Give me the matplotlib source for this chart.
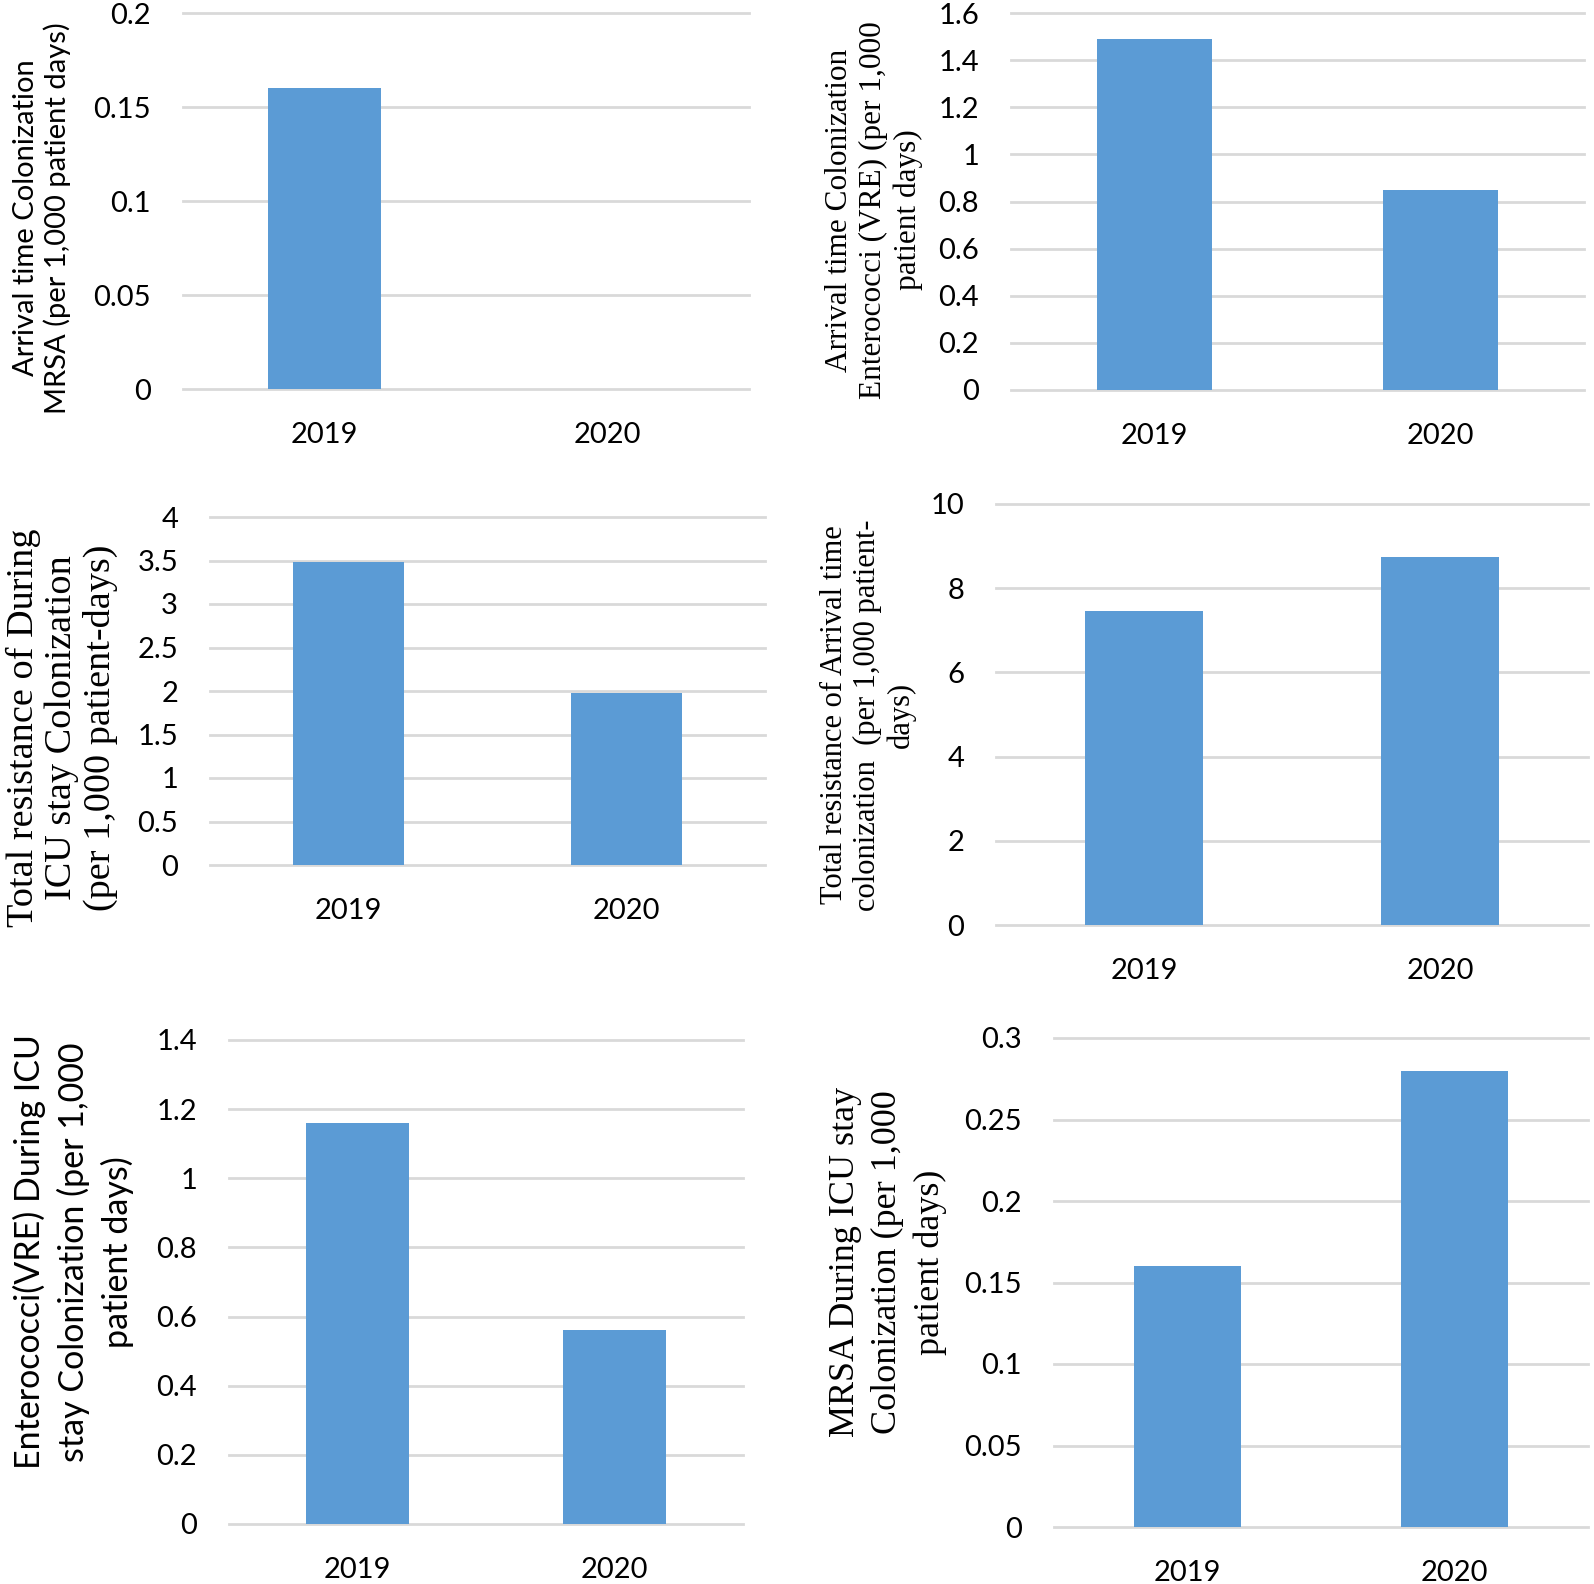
import matplotlib
matplotlib.use("Agg")
import matplotlib.pyplot as plt

# ---------------- data ----------------
years = ["2019", "2020"]

mrsa_arrival = [0.16, 0.0]
vre_arrival = [1.49, 0.85]
total_during = [3.48, 1.98]
total_arrival = [7.45, 8.75]
vre_during = [1.16, 0.56]
mrsa_during = [0.16, 0.28]

ticks_mrsa_arrival = [0, 0.05, 0.1, 0.15, 0.2]
ticks_vre_arrival = [0, 0.2, 0.4, 0.6, 0.8, 1, 1.2, 1.4, 1.6]
ticks_total_during = [0, 0.5, 1, 1.5, 2, 2.5, 3, 3.5, 4]
ticks_total_arrival = [0, 2, 4, 6, 8, 10]
ticks_vre_during = [0, 0.2, 0.4, 0.6, 0.8, 1, 1.2, 1.4]
ticks_mrsa_during = [0, 0.05, 0.1, 0.15, 0.2, 0.25, 0.3]

label_mrsa_arrival = "Arrival time Colonization\nMRSA (per 1,000 patient days)"
label_vre_arrival = "Arrival time Colonization\nEnterococci (VRE) (per 1,000\npatient days)"
label_total_during = "Total resistance of During\nICU stay Colonization\n(per 1,000 patient-days)"
label_total_arrival = "Total resistance of Arrival time\ncolonization  (per 1,000 patient-\ndays)"
label_vre_during = "Enterococci(VRE) During ICU\nstay Colonization (per 1,000\npatient days)"
label_mrsa_during = "MRSA During ICU stay\nColonization (per 1,000\npatient days)"

# ---------------- style ----------------
W, H = 1594, 1584
BAR = "#5B9BD5"
GRID = "#D9D9D9"
SANS = ["Lato", "DejaVu Sans"]
SERIF = ["Liberation Serif", "DejaVu Serif"]

fig = plt.figure(figsize=(W / 100, H / 100), dpi=100)


def make_panel(px, values, ticks, label, lab_xy, lab_font, lab_size, lab_ls):
    left, right, top, bottom = px
    ax = fig.add_axes([left / W, 1 - bottom / H, (right - left) / W, (bottom - top) / H])
    x = list(range(len(years)))
    ax.bar(x, values, width=0.4, color=BAR, zorder=3)
    ax.set_xlim(-0.5, len(years) - 0.5)
    ax.set_ylim(ticks[0], ticks[-1])
    ax.set_yticks(ticks)
    ax.set_yticklabels([f"{t:g}" for t in ticks], fontfamily=SANS, fontsize=21)
    ax.set_xticks(x)
    ax.set_xticklabels(years, fontfamily=SANS, fontsize=21)
    ax.tick_params(axis="y", length=0, pad=23)
    ax.tick_params(axis="x", length=0, pad=24)
    for s in ax.spines.values():
        s.set_visible(False)
    ax.yaxis.grid(True, color=GRID, linewidth=2.0)
    for gl in ax.get_ygridlines():
        gl.set_clip_on(False)
    ax.set_axisbelow(True)
    fig.text(lab_xy[0] / W, 1 - lab_xy[1] / H, label, rotation=90,
             ha="center", va="center", multialignment="center",
             fontfamily=lab_font, fontsize=lab_size, linespacing=lab_ls)
    return ax


make_panel((183, 749, 13, 389), mrsa_arrival, ticks_mrsa_arrival, label_mrsa_arrival,
           (42, 218), SANS, 21, 1.2)
make_panel((1011, 1584, 13, 390), vre_arrival, ticks_vre_arrival, label_vre_arrival,
           (874, 210), SERIF, 22.5, 1.22)
make_panel((210, 765, 517, 865), total_during, ticks_total_during, label_total_during,
           (62, 728), SERIF, 27.5, 1.15)
make_panel((996, 1588, 504, 925), total_arrival, ticks_total_arrival, label_total_arrival,
           (868, 715), SERIF, 22, 1.18)
make_panel((229, 743, 1040, 1524), vre_during, ticks_vre_during, label_vre_during,
           (73, 1252), SANS, 24.5, 1.4)
make_panel((1054, 1588, 1038, 1527), mrsa_during, ticks_mrsa_during, label_mrsa_during,
           (888, 1262), SERIF, 26, 1.38)

fig.savefig("out.png", dpi=100)
